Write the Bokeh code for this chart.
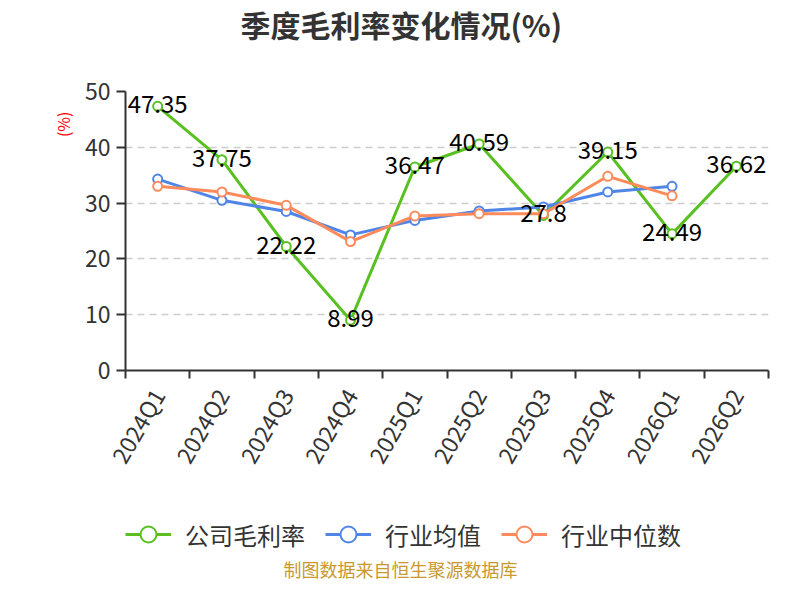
from bokeh.plotting import figure
from bokeh.layouts import column
from bokeh.models import (ColumnDataSource, FixedTicker, Legend, LegendItem, Title,
                          Range1d, Label)
from bokeh.embed import file_html
from bokeh.resources import INLINE
from bokeh.core.properties import value

# ---- data ----
quarters = ["2024Q1", "2024Q2", "2024Q3", "2024Q4", "2025Q1", "2025Q2",
            "2025Q3", "2025Q4", "2026Q1", "2026Q2"]
company = [47.35, 37.75, 22.22, 8.99, 36.47, 40.59, 27.8, 39.15, 24.49, 36.62]
industry_mean = [34.3, 30.5, 28.5, 24.3, 26.9, 28.6, 29.3, 32.0, 33.0]
industry_median = [33.0, 32.0, 29.6, 23.1, 27.7, 28.1, 28.1, 34.8, 31.3]
series_names = ["公司毛利率", "行业均值", "行业中位数"]
y_ticks = [0, 10, 20, 30, 40, 50]
title_text = "季度毛利率变化情况(%)"
y_unit = "(%)"
source_text = "制图数据来自恒生聚源数据库"

GREEN = "#58c021"
BLUE = "#4f85e6"
ORANGE = "#ff8a5b"
COLORS = [GREEN, BLUE, ORANGE]
FONT = "Noto Sans CJK SC"

W = 784
H_HEAD = 70
H_MAIN = 410
H_FOOT = 104


def blank_panel(height):
    fig = figure(width=W, height=height, output_backend="svg", toolbar_location=None,
                 x_range=Range1d(0, 1), y_range=Range1d(0, 1),
                 x_axis_location=None, y_axis_location=None,
                 min_border_left=0, min_border_right=0, min_border_top=0,
                 min_border_bottom=0)
    fig.outline_line_color = None
    fig.grid.visible = False
    fig.border_fill_color = "white"
    return fig


# ---- header: title ----
h = blank_panel(H_HEAD)
h.add_layout(Label(x=115, y=47, x_units="screen", y_units="screen",
                   text=title_text, text_align="left", text_baseline="middle",
                   text_font=FONT, text_font_size="30px", text_font_style="bold",
                   text_color="#333333"))

# ---- main chart ----
pos = [i + 0.5 for i in range(len(quarters))]
src_c = ColumnDataSource(dict(x=pos, y=company, t=[f"{v:g}" for v in company]))
src_m = ColumnDataSource(dict(x=pos[:len(industry_mean)], y=industry_mean))
src_d = ColumnDataSource(dict(x=pos[:len(industry_median)], y=industry_median))

p = figure(width=W, height=H_MAIN, output_backend="svg", toolbar_location=None,
           x_range=Range1d(0, len(quarters)), y_range=Range1d(0, 50),
           min_border_left=125, min_border_right=16, min_border_top=21,
           min_border_bottom=105)
p.outline_line_color = None
p.background_fill_color = "white"
p.border_fill_color = "white"

# grid
p.xgrid.visible = False
p.ygrid.grid_line_color = "#cccccc"
p.ygrid.grid_line_dash = "7 5"
p.ygrid.grid_line_width = 1.5
p.ygrid.ticker = FixedTicker(ticks=y_ticks[1:])

# y axis
ya = p.yaxis[0]
ya.ticker = FixedTicker(ticks=y_ticks)
ya.axis_line_color = "#333333"
ya.axis_line_width = 2
ya.major_tick_line_color = "#333333"
ya.major_tick_line_width = 2
ya.major_tick_out = 9
ya.major_tick_in = 0
ya.minor_tick_line_color = None
ya.major_label_text_font = FONT
ya.major_label_text_font_size = "23px"
ya.major_label_text_color = "#333333"
ya.major_label_standoff = 6

# unit label on the left, near the top
p.add_layout(Title(text=y_unit, align="right", offset=20, text_color="red",
                   text_font=FONT, text_font_size="16px",
                   text_font_style="normal", standoff=13), "left")

# x axis
xa = p.xaxis[0]
xa.ticker = FixedTicker(ticks=pos, minor_ticks=list(range(len(quarters) + 1)))
xa.major_label_overrides = {x: q for x, q in zip(pos, quarters)}
xa.axis_line_color = "#333333"
xa.axis_line_width = 2
xa.major_tick_out = 0
xa.major_tick_in = 0
xa.major_tick_line_color = None
xa.minor_tick_line_color = "#333333"
xa.minor_tick_line_width = 2
xa.minor_tick_out = 8
xa.minor_tick_in = 0
xa.major_label_orientation = 1.0472
xa.major_label_text_font = FONT
xa.major_label_text_font_size = "23px"
xa.major_label_text_color = "#333333"
xa.major_label_standoff = 12

# series
for src, col in zip([src_c, src_m, src_d], COLORS):
    p.line("x", "y", source=src, color=col, line_width=3)
    p.scatter("x", "y", source=src, size=9, fill_color="white",
              line_color=col, line_width=2)

p.text("x", "y", text="t", source=src_c, text_align="center",
       text_baseline="middle", text_font=value(FONT), text_font_size="24px",
       text_color="#000000", y_offset=-2)

# ---- footer: legend + source ----
f = blank_panel(H_FOOT)
items = []
for name, col in zip(series_names, COLORS):
    s = ColumnDataSource(dict(x=[float("nan")], y=[float("nan")]))
    r1 = f.line("x", "y", source=s, color=col, line_width=3)
    r2 = f.scatter("x", "y", source=s, size=9, fill_color="white",
                   line_color=col, line_width=2)
    items.append(LegendItem(label=name, renderers=[r1, r2]))

legend = Legend(items=items, orientation="horizontal", location=(0, 30))
legend.glyph_width = 46
legend.glyph_height = 40
legend.label_standoff = 14
legend.spacing = 20
legend.padding = 0
legend.margin = 0
legend.border_line_color = None
legend.background_fill_alpha = 0
legend.label_text_font = FONT
legend.label_text_font_size = "24px"
legend.label_text_color = "#333333"
legend.label_text_baseline = "middle"
f.add_layout(legend, "center")

f.add_layout(Label(x=275, y=16, x_units="screen", y_units="screen",
                   text=source_text, text_align="center", text_baseline="middle",
                   text_font=FONT, text_font_size="18px", text_color="#c9992d"))

layout = column(h, p, f, spacing=0)
open("out.html", "w").write(file_html(layout, INLINE))
